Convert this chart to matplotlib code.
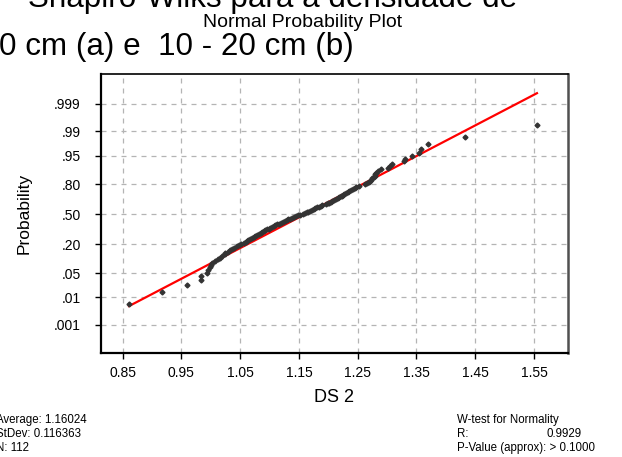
import numpy as np
import matplotlib
matplotlib.use("Agg")
import matplotlib.pyplot as plt
from statistics import NormalDist

plt.rcParams['font.family'] = ['Liberation Sans', 'DejaVu Sans']

# ---- data ----
ds2 = [0.861, 0.918, 0.959, 0.984, 0.984,
       0.993, 0.996, 0.998, 1.000, 1.002,
       1.008, 1.012, 1.016, 1.020, 1.024,
       1.025, 1.029, 1.033, 1.036, 1.040, 1.044, 1.048, 1.052, 1.056, 1.060,
       1.062, 1.064, 1.067, 1.070, 1.073, 1.076, 1.079, 1.082, 1.085, 1.088,
       1.090, 1.093, 1.096, 1.099, 1.101, 1.104, 1.107, 1.110, 1.113, 1.116,
       1.120, 1.123, 1.126, 1.129, 1.132, 1.135, 1.138, 1.142, 1.145, 1.148, 1.152,
       1.157, 1.160, 1.163, 1.166, 1.169, 1.172, 1.175, 1.178, 1.181, 1.184, 1.187, 1.190,
       1.196, 1.199, 1.202, 1.204, 1.207, 1.210, 1.213, 1.216, 1.218, 1.221, 1.223, 1.225,
       1.227, 1.230, 1.233, 1.236, 1.239, 1.242, 1.245, 1.248, 1.252,
       1.262, 1.266, 1.269, 1.271, 1.272,
       1.275, 1.278, 1.280, 1.280, 1.282, 1.285, 1.290,
       1.302, 1.305, 1.308, 1.328, 1.330, 1.342, 1.355, 1.357, 1.369, 1.433, 1.555]

average = 1.16024
stdev = 0.116363
n_obs = 112
w_r = 0.9929

x_ticks = [0.85, 0.95, 1.05, 1.15, 1.25, 1.35, 1.45, 1.55]
x_ticklabels = ['0.85', '0.95', '1.05', '1.15', '1.25', '1.35', '1.45', '1.55']
prob_ticks = [0.001, 0.01, 0.05, 0.20, 0.50, 0.80, 0.95, 0.99, 0.999]
prob_ticklabels = ['.001', '.01', '.05', '.20', '.50', '.80', '.95', '.99', '.999']

# ---- normal probability scale ----
nd = NormalDist()
_ppf = np.vectorize(nd.inv_cdf, otypes=[float])
_cdf = np.vectorize(nd.cdf, otypes=[float])

def fwd(p):
    p = np.clip(np.asarray(p, dtype=float), 1e-12, 1 - 1e-12)
    return _ppf(p)

def inv(z):
    return _cdf(np.asarray(z, dtype=float))

x = np.sort(np.array(ds2))
n = len(x)
ranks = np.arange(1, n + 1)
pp = (ranks - 0.3) / (n + 0.4)

W, H = 622, 457
fig = plt.figure(figsize=(W / 100, H / 100), dpi=100)
ax = fig.add_axes([101 / W, 1 - 353.3 / H, (568 - 101) / W, (353.3 - 74) / H])
ax.set_yscale('function', functions=(fwd, inv))

# fitted line
xl = np.array([x.min(), x.max()])
yl = inv((xl - average) / stdev)
ax.plot(xl, yl, color='red', lw=1.6, zorder=3)

ax.plot(x, pp, linestyle='none', marker='D', markersize=2.5,
        color='#333333', zorder=4)

ax.set_xlim(0.8134, 1.6078)
ax.set_ylim(inv(-3.894), inv(3.93))
ax.set_xticks(x_ticks)
ax.set_xticklabels(x_ticklabels)
ax.set_yticks(prob_ticks)
ax.set_yticklabels(prob_ticklabels)
ax.yaxis.set_minor_locator(matplotlib.ticker.NullLocator())
ax.xaxis.set_minor_locator(matplotlib.ticker.NullLocator())

ax.grid(True, color='#b4b4b4', linestyle=(0, (4, 4)), linewidth=0.9)
ax.set_axisbelow(True)

ax.tick_params(axis='both', direction='out', length=4.5, width=1.0,
               labelsize=10, color='black')
ax.tick_params(axis='y', pad=10)
ax.tick_params(axis='x', pad=5)

for side, lw, col in [('left', 1.6, 'black'), ('bottom', 1.6, 'black'),
                      ('top', 1.2, 'black'), ('right', 1.8, '#505050')]:
    ax.spines[side].set_linewidth(lw)
    ax.spines[side].set_color(col)

ax.set_xlabel('DS 2', fontsize=13, labelpad=6)
ax.set_ylabel('Probability', fontsize=12.5, labelpad=16)

def px(xp, yp):
    return xp / W, 1 - yp / H

# caption text overlapping from the document
fig.text(*px(517, 7), 'Shapiro-Wilks para a densidade de', fontsize=22.6,
         ha='right', va='baseline')
fig.text(*px(-1, 55), '0 cm (a) e  10 - 20 cm (b)', fontsize=22.6,
         ha='left', va='baseline')

fig.text(*px(303, 27), 'Normal Probability Plot', fontsize=14,
         ha='center', va='baseline')

fs = 8.3
fig.text(*px(-4, 423), f'Average: {average:.5f}', fontsize=fs, va='baseline')
fig.text(*px(-4, 437), f'StDev: {stdev}', fontsize=fs, va='baseline')
fig.text(*px(-4, 451), f'N: {n_obs}', fontsize=fs, va='baseline')

fig.text(*px(457, 423), 'W-test for Normality', fontsize=fs, va='baseline')
fig.text(*px(457, 437), 'R:', fontsize=fs, va='baseline')
fig.text(*px(582, 437), f'{w_r:.4f}', fontsize=fs, va='baseline', ha='right')
fig.text(*px(457, 451), 'P-Value (approx): > 0.1000', fontsize=fs, va='baseline')

fig.savefig('out.png', dpi=100)
